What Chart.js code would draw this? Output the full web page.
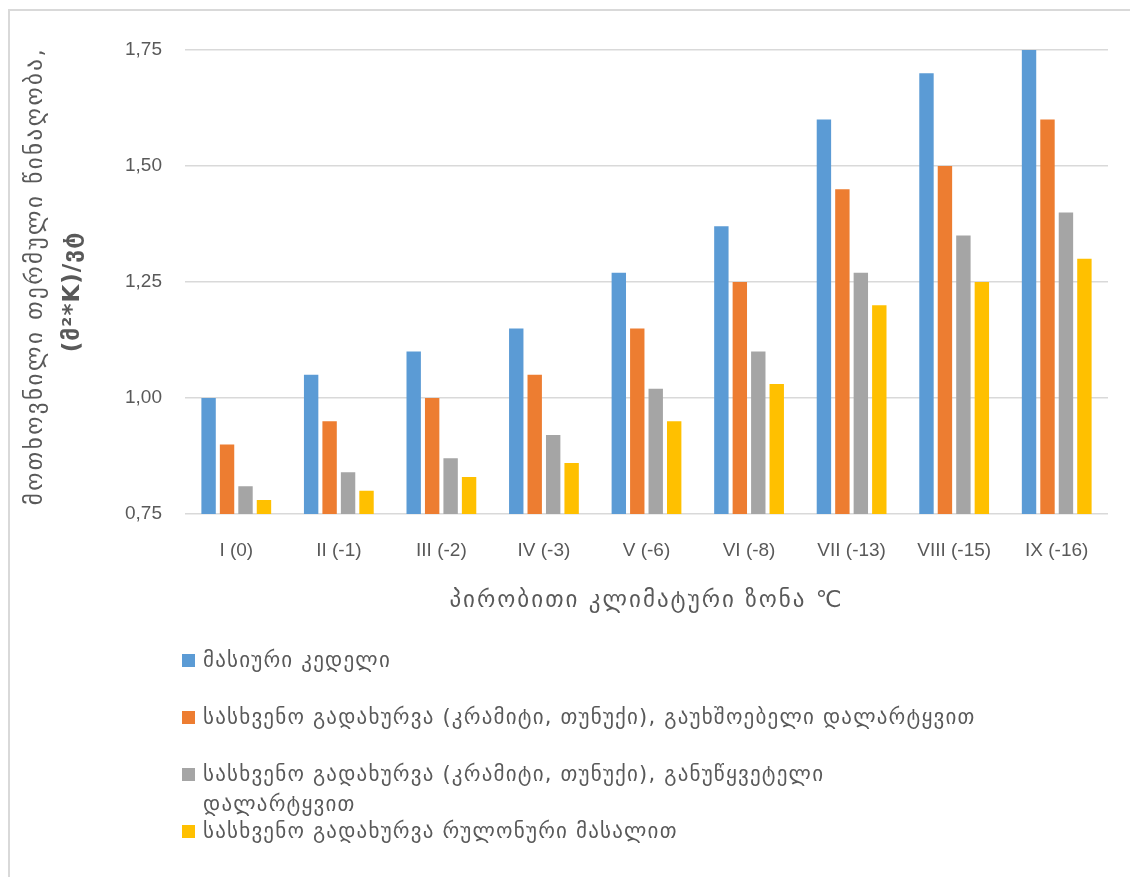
<!DOCTYPE html>
<html>
<head>
<meta charset="utf-8">
<title>თერმული წინაღობა კლიმატური ზონების მიხედვით</title>
<script src="https://cdn.jsdelivr.net/npm/chart.js@4.4.1/dist/chart.umd.min.js"></script>
<style>
  html, body { margin: 0; padding: 0; background: #ffffff; }
  #wrap { position: relative; width: 1130px; height: 877px; overflow: hidden; }
  #chart { position: absolute; left: 0; top: 0; }
  #legend {
    position: absolute; left: 182px; top: 645px;
    font-family: "DejaVu Sans", sans-serif; font-size: 21px; color: #595959;
    letter-spacing: 1.2px;
  }
  .item { position: relative; height: 57px; line-height: 30px; padding-left: 21px; white-space: pre-line; }
  .swatch { position: absolute; left: 0; top: 9px; width: 13px; height: 13px; }
</style>
</head>
<body>
<div id="wrap">
  <canvas id="chart" width="1130" height="877"></canvas>
  <div id="legend"></div>
</div>
<script>
// Climate zones (design outdoor temperature, °C)
const zones = ['I (0)', 'II (-1)', 'III (-2)', 'IV (-3)', 'V (-6)', 'VI (-8)', 'VII (-13)', 'VIII (-15)', 'IX (-16)'];

// Required thermal resistance, (m²·K)/W
const massiveWall         = [1.00, 1.05, 1.10, 1.15, 1.27, 1.37, 1.60, 1.70, 1.75];
const atticRoofUnsealed   = [0.90, 0.95, 1.00, 1.05, 1.15, 1.25, 1.45, 1.50, 1.60];
const atticRoofContinuous = [0.81, 0.84, 0.87, 0.92, 1.02, 1.10, 1.27, 1.35, 1.40];
const atticRoofRolled     = [0.78, 0.80, 0.83, 0.86, 0.95, 1.03, 1.20, 1.25, 1.30];

const seriesNames = [
  'მასიური კედელი',
  'სასხვენო გადახურვა (კრამიტი, თუნუქი), გაუხშოებელი დალარტყვით',
  'სასხვენო გადახურვა (კრამიტი, თუნუქი), განუწყვეტელი\nდალარტყვით',
  'სასხვენო გადახურვა რულონური მასალით'
];
const seriesColors = ['#5B9BD5', '#ED7D31', '#A5A5A5', '#FFC000'];

const yTicks = [0.75, 1.00, 1.25, 1.50, 1.75];

const yTitleLine1 = 'მოთხოვნილი თერმული წინაღობა,';
const yTitleLine2 = '(მ²*K)/ვტ';
const xTitle = 'პირობითი კლიმატური ზონა ℃';

const seriesValues = [massiveWall, atticRoofUnsealed, atticRoofContinuous, atticRoofRolled];

const textColor = '#595959';
const gridColor = '#d9d9d9';

// Light frame along the top and left edges
const framePlugin = {
  id: 'frame',
  beforeDraw(chart) {
    const ctx = chart.ctx;
    ctx.save();
    ctx.fillStyle = '#ffffff';
    ctx.fillRect(0, 0, chart.width, chart.height);
    ctx.strokeStyle = gridColor;
    ctx.lineWidth = 2;
    ctx.beginPath();
    ctx.moveTo(9, chart.height);
    ctx.lineTo(9, 10);
    ctx.lineTo(chart.width, 10);
    ctx.stroke();
    ctx.restore();
  }
};

// Axis titles: two-line rotated y title (second line bold) and x title
const axisTitlesPlugin = {
  id: 'axisTitles',
  afterDraw(chart) {
    const ctx = chart.ctx;
    const area = chart.chartArea;
    const midY = (area.top + area.bottom) / 2;
    ctx.save();
    ctx.fillStyle = textColor;
    ctx.textAlign = 'center';
    ctx.textBaseline = 'middle';

    ctx.save();
    ctx.translate(36, midY - 6);
    ctx.rotate(-Math.PI / 2);
    ctx.font = '23px "DejaVu Sans"';
    ctx.letterSpacing = '2.5px';
    ctx.fillText(yTitleLine1, 0, 0);
    ctx.restore();

    ctx.save();
    ctx.translate(73, midY + 10);
    ctx.rotate(-Math.PI / 2);
    ctx.font = 'bold 23px "DejaVu Sans"';
    ctx.letterSpacing = '1px';
    ctx.fillText(yTitleLine2, 0, 0);
    ctx.restore();

    ctx.font = '23px "DejaVu Sans"';
    ctx.letterSpacing = '2px';
    ctx.fillText(xTitle, (area.left + area.right) / 2, 601);
    ctx.restore();
  }
};

const chart = new Chart(document.getElementById('chart'), {
  type: 'bar',
  data: {
    labels: zones,
    datasets: seriesValues.map((vals, i) => ({
      label: seriesNames[i].replace('\n', ' '),
      data: vals,
      backgroundColor: seriesColors[i],
      borderWidth: 0,
      categoryPercentage: 0.72,
      barPercentage: 0.78
    }))
  },
  options: {
    responsive: false,
    animation: false,
    devicePixelRatio: 1,
    layout: { padding: { top: 50, right: 22, left: 0, bottom: 0 } },
    plugins: {
      legend: { display: false },
      tooltip: { enabled: false }
    },
    scales: {
      x: {
        grid: { display: false },
        border: { display: false },
        ticks: {
          color: textColor,
          font: { family: '"Liberation Sans", sans-serif', size: 19 },
          padding: 17,
          maxRotation: 0,
          autoSkip: false
        },
        afterFit(scale) { scale.height = 363; }
      },
      y: {
        min: yTicks[0],
        max: yTicks[yTicks.length - 1],
        afterBuildTicks(scale) { scale.ticks = yTicks.map(v => ({ value: v })); },
        grid: { color: gridColor, lineWidth: 1.5, drawTicks: false },
        border: { display: false },
        ticks: {
          color: textColor,
          font: { family: '"Liberation Sans", sans-serif', size: 19 },
          padding: 23,
          callback: v => Number(v).toFixed(2).replace('.', ',')
        },
        afterFit(scale) { scale.width = 185; }
      }
    }
  },
  plugins: [framePlugin, axisTitlesPlugin]
});

// Legend built from the datasets
const legend = document.getElementById('legend');
seriesNames.forEach((name, i) => {
  const item = document.createElement('div');
  item.className = 'item';
  const sw = document.createElement('span');
  sw.className = 'swatch';
  sw.style.background = seriesColors[i];
  item.appendChild(sw);
  item.appendChild(document.createTextNode(name));
  legend.appendChild(item);
});
</script>
</body>
</html>
